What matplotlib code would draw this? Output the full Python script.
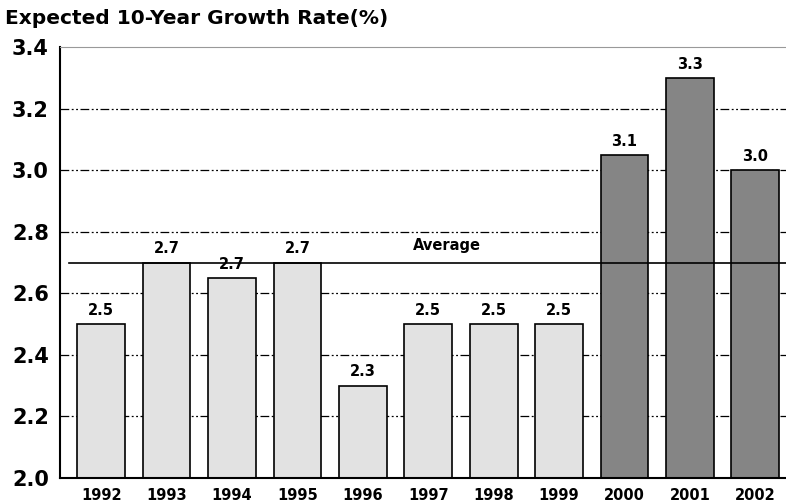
import numpy as np
import matplotlib.pyplot as plt

years = ['1992', '1993', '1994', '1995', '1996', '1997', '1998', '1999', '2000', '2001', '2002']
values = [2.5, 2.7, 2.65, 2.7, 2.3, 2.5, 2.5, 2.5, 3.05, 3.3, 3.0]
value_labels = ['2.5', '2.7', '2.7', '2.7', '2.3', '2.5', '2.5', '2.5', '3.1', '3.3', '3.0']
average = 2.7

plt.rcParams['font.family'] = ['DejaVu Sans']

fig = plt.figure(figsize=(7.86, 5.04), dpi=100)
ax = fig.add_axes([0.0763, 0.0516, 0.9237, 0.8551])

x = np.arange(len(years))
colors = ['#e2e2e2'] * 8 + ['#858585'] * 3

# dash-dot grid behind the bars
for y in [2.2, 2.4, 2.6, 2.8, 3.0, 3.2]:
    ax.axhline(y, color='black', linewidth=0.9, linestyle=(0, (7, 2, 1.5, 2, 1.5, 2)), zorder=1)

ax.bar(x, [v - 2.0 for v in values], bottom=2.0, width=0.73, color=colors,
       edgecolor='black', linewidth=1.2, zorder=2)

# average line
ax.axhline(average, xmin=0.012, xmax=1, color='black', linewidth=1.2, zorder=3)
ax.text(5.28, average + 0.03, 'Average', ha='center', va='bottom',
        fontsize=10.5, fontweight='bold', zorder=4)

for xi, v, lab in zip(x, values, value_labels):
    ax.text(xi, v + 0.02, lab, ha='center', va='bottom', fontsize=10.5, fontweight='bold', zorder=4)

ax.set_xlim(-0.63, 10.47)
ax.set_ylim(2.0, 3.4)
ax.set_yticks([2.0, 2.2, 2.4, 2.6, 2.8, 3.0, 3.2, 3.4])
ax.set_yticklabels(['2.0', '2.2', '2.4', '2.6', '2.8', '3.0', '3.2', '3.4'],
                   fontsize=15, fontweight='bold')
ax.set_xticks(x)
ax.set_xticklabels(years, fontsize=10.5, fontweight='bold')
ax.tick_params(axis='y', length=0, pad=8)
ax.tick_params(axis='x', length=0, pad=7)

ax.spines['right'].set_visible(False)
ax.spines['top'].set_color('#999999')
ax.spines['left'].set_linewidth(1.5)
ax.spines['bottom'].set_linewidth(1.5)

fig.text(0.006, 0.982, 'Expected 10-Year Growth Rate(%)', ha='left', va='top',
         fontsize=14.5, fontweight='bold')

fig.savefig('out.png', dpi=100)
